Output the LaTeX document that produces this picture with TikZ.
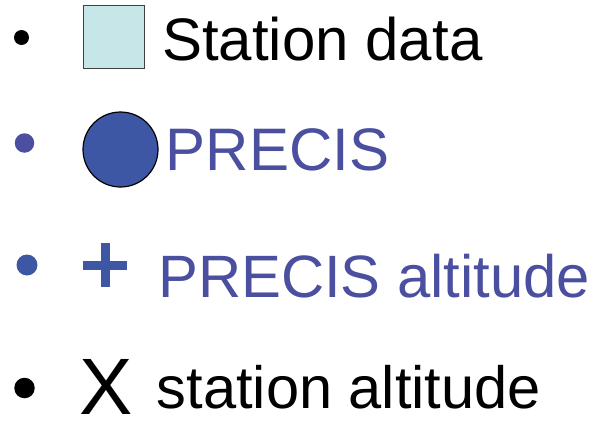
\documentclass[tikz,border=0pt]{standalone}
\usepackage{fontspec}
\setmainfont{Liberation Sans}
\definecolor{stationfill}{HTML}{C6E6E8}
\definecolor{boxedge}{HTML}{404040}
\definecolor{precisblue}{HTML}{3D57A5}
\definecolor{precistext}{HTML}{4A4FA0}
\begin{document}
\begin{tikzpicture}[x=1pt,y=-1pt,
  lbl/.style={inner sep=0pt,anchor=base west},
  dotmark/.style={circle,inner sep=0pt,draw=none}]
\useasboundingbox (0,0) rectangle (596,420);
% row 1
\node[dotmark,fill=black,minimum size=15pt] (b1) at (21.5,37.5) {};
\node[draw=boxedge,line width=1pt,fill=stationfill,minimum width=61pt,minimum height=62pt,inner sep=0pt] (sq) at (113.5,37) {};
\node[lbl,font=\fontsize{60}{60}\selectfont] (t1) at (162,60) {Station data};
% row 2
\node[dotmark,fill=precistext,minimum size=19.5pt] (b2) at (24.5,143) {};
\node[circle,draw=black,line width=1.2pt,fill=precisblue,minimum size=75pt,inner sep=0pt] (circ) at (120.5,149.5) {};
\node[lbl,font=\fontsize{60}{60}\selectfont,text=precistext] (t2) at (165.5,170) {PRECIS};
% row 3
\node[dotmark,fill=precisblue,minimum size=21pt] (b3) at (27,265) {};
\fill[precisblue] (83,261) rectangle (127,270);
\fill[precisblue] (100.5,243) rectangle (109.5,287);
\node[lbl,font=\fontsize{59.8}{59.8}\selectfont,text=precistext] (t3) at (158,297) {PRECIS altitude};
% row 4
\node[dotmark,fill=black,minimum size=20.5pt] (b4) at (24.5,388) {};
\node[lbl,font=\fontsize{80}{80}\selectfont] (xm) at (79,414.5) {X};
\node[lbl,font=\fontsize{59.6}{59.6}\selectfont] (t4) at (156.5,408) {station altitude};
\end{tikzpicture}
\end{document}
